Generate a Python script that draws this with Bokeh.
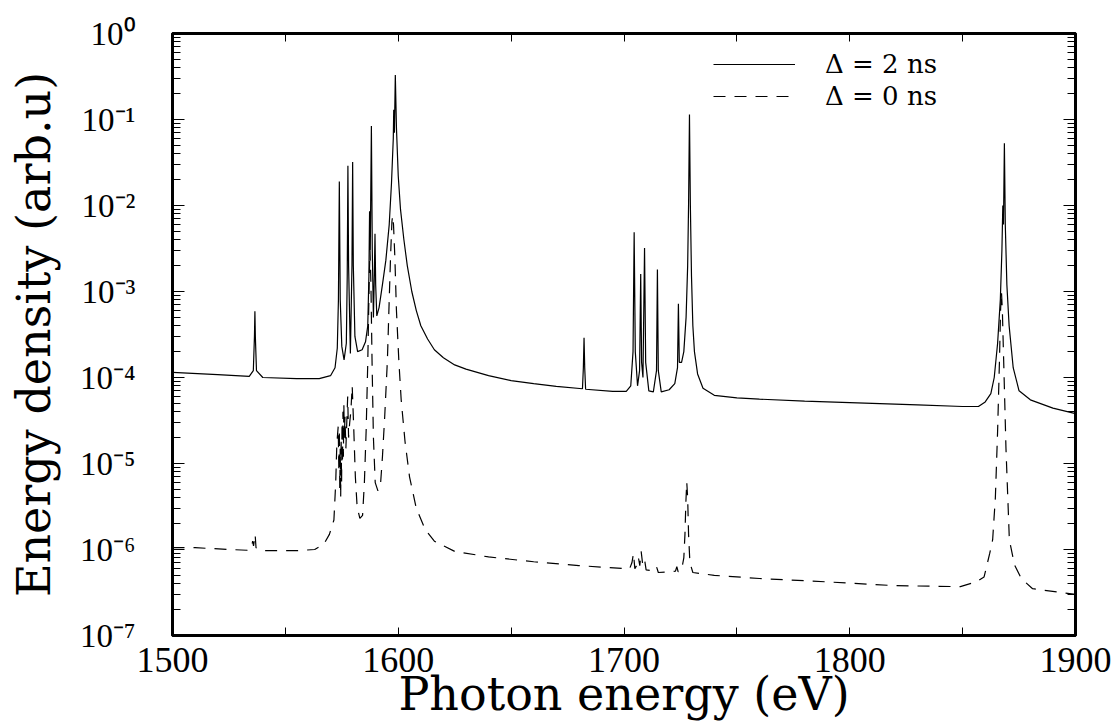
from bokeh.plotting import figure
from bokeh.models import FixedTicker, LogAxis, LinearAxis, Range1d
from bokeh.embed import file_html
from bokeh.resources import INLINE

# ---------------- data ----------------
solid_x = [1500, 1520, 1534, 1535.8, 1536.3, 1536.5, 1536.7, 1537.2, 1540, 1555, 1565,
           1570, 1572, 1573, 1573.5, 1573.9, 1574.3, 1575, 1576, 1577, 1577.4, 1577.7,
           1578.0, 1578.8, 1579.5, 1579.8, 1580.1, 1580.8, 1582, 1584, 1585.5, 1586.5,
           1587.0, 1587.3, 1587.6, 1588.1, 1588.5, 1589.0, 1589.4, 1589.7, 1590.0,
           1590.5, 1591.5, 1593, 1594.5, 1596, 1597, 1597.8, 1598.0, 1598.3, 1598.7,
           1599.2, 1600, 1601, 1602.5, 1604, 1606, 1608, 1610, 1613, 1616, 1620, 1625,
           1630, 1640, 1650, 1660, 1670,
           1681.6, 1682.0, 1682.3, 1682.6, 1683, 1695, 1701, 1703, 1704, 1704.5, 1705,
           1706, 1706.9, 1707.4, 1707.8, 1708.4, 1709.1, 1709.6, 1711, 1713, 1714.4,
           1714.8, 1715.2, 1716.5, 1720, 1722.5, 1723.7, 1724.1, 1724.5, 1725.5, 1726.5,
           1727.5, 1728.2, 1728.6, 1729, 1729.4, 1729.9, 1730.5, 1731.2, 1732.6, 1735,
           1740, 1750, 1760, 1780, 1800, 1830, 1850, 1857, 1860, 1862.5, 1864, 1865.5,
           1866.7, 1867.4, 1867.8, 1868.1, 1868.5, 1868.9, 1869.6, 1870.6, 1872.4, 1875,
           1880, 1890, 1900]
solid_y = [1.15e-4, 1.08e-4, 1.03e-4, 1.2e-4, 3e-4, 5.9e-4, 3e-4, 1.2e-4, 1.0e-4, 0.97e-4, 0.97e-4,
           1.05e-4, 1.3e-4, 2.2e-4, 8e-4, 1.9e-2, 8e-4, 2.3e-4, 1.6e-4, 2.5e-4, 1.5e-3, 2.9e-2,
           2e-3, 1.9e-4, 2e-3, 3.2e-2, 2e-3, 3e-4, 2.0e-4, 2.1e-4, 2.6e-4, 4e-4,
           1.5e-3, 8.6e-3, 3e-3, 8.4e-2, 3e-3, 5e-4, 1.5e-3, 4.7e-3, 1.2e-3,
           5.2e-4, 6.5e-4, 1.2e-3, 2.3e-3, 6e-3, 1.8e-2, 6e-2, 1.3e-1, 7e-2, 3.3e-1,
           8e-2, 2.2e-2, 9e-3, 4e-3, 2e-3, 1e-3, 6e-4, 4e-4, 2.8e-4, 2.1e-4, 1.7e-4, 1.4e-4,
           1.25e-4, 1.05e-4, 9.2e-5, 8.5e-5, 7.9e-5,
           7.4e-5, 1.3e-4, 2.9e-4, 1.3e-4, 7.3e-5, 6.9e-5, 6.9e-5, 8e-5, 2e-4, 4.9e-3, 2e-4,
           8e-5, 1.2e-4, 1.6e-3, 1.5e-4, 1e-4, 3.2e-3, 1.5e-4, 7e-5, 6.8e-5, 1.2e-4,
           1.8e-3, 1.2e-4, 6.8e-5, 7.2e-5, 8.5e-5, 1.3e-4, 7.2e-4, 1.5e-4, 1.5e-4, 2e-4,
           5e-4, 2e-3, 1e-2, 1.14e-1, 1e-2, 1.5e-3, 4e-4, 2e-4, 1.1e-4, 7.5e-5,
           6.2e-5, 5.8e-5, 5.6e-5, 5.3e-5, 5.1e-5, 4.8e-5, 4.6e-5, 4.6e-5, 5.2e-5, 6.5e-5, 1e-4, 2.5e-4,
           8e-4, 3e-3, 1e-2, 6e-3, 5.3e-2, 6e-3, 1.2e-3, 4e-4, 1.3e-4, 7e-5,
           5.5e-5, 4.4e-5, 3.8e-5]

dashed_x = [1500, 1510, 1525, 1533, 1535, 1535.5, 1535.9, 1536.3, 1536.6, 1537.0, 1540, 1555,
            1563, 1567, 1569.5, 1571.5, 1572.3, 1572.8, 1573.4, 1573.7, 1573.9, 1574.1,
            1574.3, 1574.5, 1574.7, 1574.9, 1575.1, 1575.3, 1575.5, 1575.7, 1575.9, 1576.1,
            1576.4, 1576.8, 1577.2, 1577.6, 1578.0, 1578.5, 1579.0, 1579.6, 1580.3, 1581,
            1581.8, 1583, 1584.2, 1585.0, 1585.8, 1586.5, 1587.1, 1587.5, 1587.9, 1588.4,
            1589.0, 1589.8, 1591, 1592.2, 1593, 1594, 1595.2, 1596.0, 1596.6, 1597.2,
            1597.5, 1597.9, 1598.5, 1599.2, 1600.3, 1601.3, 1603, 1605, 1608, 1612, 1616,
            1625, 1640, 1660, 1680, 1700, 1702.5, 1703.5, 1704.2, 1704.8, 1705.6, 1706.4,
            1707.0, 1707.6, 1708.2, 1709.0, 1709.8, 1713.5, 1714.5, 1715.2, 1720, 1722.8,
            1723.4, 1724.0, 1725.5, 1726.5, 1727.0, 1727.4, 1727.8, 1728.2, 1728.6, 1729.2,
            1730.5, 1740, 1760, 1790, 1820, 1849, 1856, 1859.5, 1862, 1863.3, 1864.5,
            1865.5, 1866.3, 1866.8, 1867.2, 1867.6, 1868.3, 1869.2, 1870.7, 1873, 1876,
            1881, 1892, 1900]
dashed_y = [1.05e-6, 1.05e-6, 1.0e-6, 0.98e-6, 1.05e-6, 1.25e-6, 1.1e-6, 1.3e-6, 1.5e-6, 1.05e-6, 0.97e-6, 0.97e-6,
            1.0e-6, 1.15e-6, 1.5e-6, 2.2e-6, 6e-6, 1.7e-5, 2.7e-5, 8e-6, 2.5e-5, 5e-6,
            1.5e-5, 4e-6, 2e-5, 6e-6, 3e-5, 1e-5, 4e-5, 1.2e-5, 5e-5, 2e-5,
            3.5e-5, 1.5e-5, 3e-5, 6e-5, 2e-5, 3e-5, 4e-5, 8e-5, 2.5e-5, 7e-6,
            3.1e-6, 2.3e-6, 2.5e-6, 6e-6, 2.5e-5, 1.5e-4, 1.2e-3, 3e-3, 1.2e-3, 1.5e-4,
            2e-5, 6e-6, 4.8e-6, 6e-6, 1.2e-5, 3.5e-5, 1.6e-4, 8e-4, 2.6e-3, 6.5e-3,
            7.6e-3, 6e-3, 2.5e-3, 6e-4, 1.5e-4, 5.5e-5, 1.8e-5, 7e-6, 3e-6, 1.7e-6, 1.25e-6,
            9.5e-7, 8.2e-7, 7.2e-7, 6.5e-7, 6e-7, 6e-7, 7e-7, 9e-7, 6e-7, 6.5e-7, 8e-7,
            6.5e-7, 9.5e-7, 7e-7, 8e-7, 5.8e-7, 5.6e-7, 6.2e-7, 5.4e-7, 5.5e-7, 5.6e-7,
            6.3e-7, 5.5e-7, 5.8e-7, 8e-7, 1.5e-6, 3.5e-6, 6.1e-6, 4e-6, 1.5e-6, 7e-7,
            5.4e-7, 5.0e-7, 4.6e-7, 4.2e-7, 3.8e-7, 3.7e-7, 4.2e-7, 4.8e-7, 9e-7, 1.3e-6, 4e-6,
            2.4e-5, 1.5e-4, 6e-4, 1e-3, 6e-4, 1.2e-4, 1.5e-5, 1.3e-6, 6.6e-7, 4.6e-7,
            3.5e-7, 3.2e-7, 3.0e-7]

x_major = [1500, 1600, 1700, 1800, 1900]
x_minor = [1550, 1650, 1750, 1850]
y_major = [1e-7, 1e-6, 1e-5, 1e-4, 1e-3, 1e-2, 1e-1, 1e0]
y_labels = ["10⁻⁷", "10⁻⁶", "10⁻⁵", "10⁻⁴", "10⁻³", "10⁻²", "10⁻¹", "10⁰"]
y_minor = [m * d for d in y_major[:-1] for m in range(2, 10)]

label_solid = "Δ = 2 ns"
label_dashed = "Δ = 0 ns"
x_title = "Photon energy (eV)"
y_title = "Energy density (arb.u)"

# ---------------- figure ----------------
p = figure(width=1118, height=726, x_range=Range1d(1500, 1900), y_range=Range1d(1e-7, 1),
           y_axis_type="log", output_backend="svg", toolbar_location=None,
           min_border_left=172, min_border_right=43, min_border_top=33, min_border_bottom=91,
           background_fill_color="white", border_fill_color="white")
p.grid.visible = False
p.outline_line_color = "black"
p.outline_line_width = 3

p.line(solid_x, solid_y, line_color="black", line_width=1.2, legend_label=label_solid)
p.line(dashed_x, dashed_y, line_color="black", line_width=1.2, line_dash="12 9",
       legend_label=label_dashed)

xt = FixedTicker(ticks=x_major, minor_ticks=x_minor)
yt = FixedTicker(ticks=y_major, minor_ticks=y_minor)


def style(ax, xdir):
    ax.axis_line_color = "black"
    ax.axis_line_width = 3
    ax.major_tick_out = 0
    ax.minor_tick_out = 0
    ax.major_tick_line_color = "black"
    ax.minor_tick_line_color = "black"
    ax.major_tick_line_width = 1
    ax.minor_tick_line_width = 1
    if xdir:
        ax.major_tick_in = 8
        ax.minor_tick_in = 8
    else:
        ax.major_tick_in = 12
        ax.minor_tick_in = 8


xa = p.xaxis[0]
xa.ticker = xt
style(xa, True)
xa.major_label_text_font = "Liberation Serif"
xa.major_label_text_font_size = "36px"
xa.major_label_text_color = "black"
xa.major_label_standoff = 12
xa.axis_label = x_title
xa.axis_label_text_font = "DejaVu Serif"
xa.axis_label_text_font_size = "46px"
xa.axis_label_text_font_style = "normal"
xa.axis_label_text_color = "black"
xa.axis_label_standoff = -8

ya = p.yaxis[0]
ya.ticker = yt
style(ya, False)
ya.major_label_overrides = {v: s for v, s in zip(y_major, y_labels)}
ya.major_label_text_font = "Liberation Serif"
ya.major_label_text_font_size = "33px"
ya.major_label_text_color = "black"
ya.major_label_standoff = 37
ya.axis_label = y_title
ya.axis_label_text_font = "DejaVu Serif"
ya.axis_label_text_font_size = "46px"
ya.axis_label_text_font_style = "normal"
ya.axis_label_text_color = "black"
ya.axis_label_standoff = 16

top = LinearAxis(ticker=xt, major_label_overrides={v: "" for v in x_major})
style(top, True)
p.add_layout(top, "above")
right = LogAxis(ticker=yt, major_label_overrides={v: "" for v in y_major})
style(right, False)
p.add_layout(right, "right")

lg = p.legend[0]
lg.location = (541, 523)
lg.border_line_color = None
lg.background_fill_alpha = 0
lg.glyph_width = 82
lg.glyph_height = 32
lg.label_height = 32
lg.label_standoff = 30
lg.padding = 0
lg.margin = 0
lg.spacing = 0
lg.label_text_font = "DejaVu Serif"
lg.label_text_font_size = "26px"
lg.label_text_color = "black"

open("out.html", "w").write(file_html(p, INLINE))
